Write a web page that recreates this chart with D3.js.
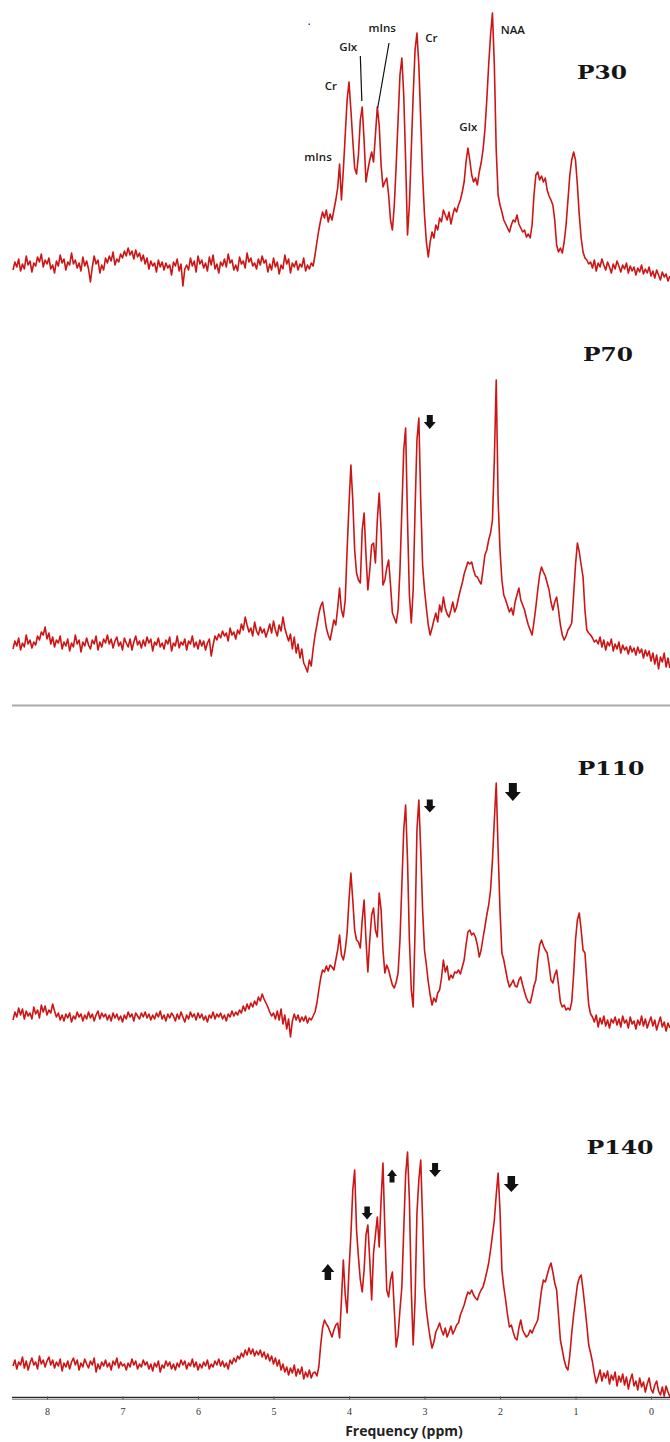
<!DOCTYPE html>
<html>
<head>
<meta charset="utf-8">
<script src="https://cdn.jsdelivr.net/npm/d3@7"></script>
<style>
  html, body { margin: 0; padding: 0; background: #fff; }
  svg { display: block; }
</style>
</head>
<body>
<svg id="chart" width="670" height="1442"></svg>
<script>
// Spectra are sampled on a uniform chemical-shift grid: 8.45 ppm downward in 0.025 ppm steps.
const PPM_START = 8.45;
const PPM_STEP = 0.025;

const axisTicks = [8, 7, 6, 5, 4, 3, 2, 1, 0];
const axisTitle = "Frequency (ppm)";
const groupNames = ["P30", "P70", "P110", "P140"];

// Signal intensity (arbitrary units) per grid point.
const p30 = [
  30,38,33,41,29,36,31,44,35,39, 28,37,34,43,38,46,33,40,36,42,
  31,35,27,39,34,45,37,41,30,38, 35,47,36,40,32,37,29,43,34,39,
  31,18,33,44,36,40,27,35,30,42, 37,44,39,48,35,41,38,46,42,49,
  44,52,45,49,41,50,43,47,39,45, 36,42,31,39,34,37,28,40,33,38,
  30,37,32,35,25,38,34,41,29,36, 14,31,35,30,42,34,39,28,44,36,
  40,32,37,29,43,35,45,31,36,27, 38,34,41,33,46,37,40,30,35,29,
  43,36,39,32,47,38,42,34,37,31, 41,35,44,37,40,28,36,30,42,33,
  38,26,35,31,45,36,41,27,37,33, 39,30,36,33,42,29,35,31,37,34,
  45,58,70,80,88,82,90,78,86,80, 90,100,112,136,100,130,165,200,218,190,
  160,132,126,145,180,193,160,118,130,140, 148,138,165,193,175,135,113,118,122,105,
  80,70,95,135,180,225,242,205,140,65, 95,150,205,250,267,235,180,125,85,58,
  43,58,68,62,75,70,82,78,90,85, 80,88,76,85,92,88,95,100,108,118,
  138,152,140,125,118,122,115,128,137,150, 170,200,235,265,287,235,150,105,95,88,
  80,76,72,68,75,80,78,85,76,72, 68,70,63,66,62,75,105,125,128,120,
  124,118,122,110,104,100,95,80,55,48, 52,47,58,75,100,125,140,148,140,115,
  85,62,48,42,40,36,38,32,40,29, 37,33,41,35,30,38,33,27,36,31,
  39,34,28,35,31,37,27,34,29,33, 25,32,28,35,26,31,27,33,24,29,
  22,30,25,20,28,23,26,19,24
];

const p70 = [
  31,39,34,42,30,37,33,45,36,40, 32,38,35,44,40,48,45,53,41,47,
  36,43,33,40,37,44,31,38,34,41, 29,37,33,45,36,40,28,38,34,42,
  35,31,40,36,44,30,38,33,41,37, 45,36,41,32,39,43,34,38,30,42,
  37,33,41,30,38,44,35,39,32,40, 34,43,37,41,29,38,35,42,33,37,
  31,40,36,43,29,37,34,44,32,38, 35,41,30,39,36,44,33,38,31,40,
  34,39,30,37,41,24,35,44,40,46, 42,49,44,47,39,52,45,48,41,50,
  46,56,50,63,55,48,52,44,58,49, 45,53,47,51,43,49,56,47,59,50,
  44,55,49,63,52,45,39,46,31,43, 27,36,22,31,17,13,8,20,14,31,
  45,55,66,74,78,65,52,45,40,50, 60,55,72,92,70,63,80,130,175,215,
  180,130,107,100,97,150,167,125,90,110, 135,137,117,160,187,150,95,100,112,120,
  95,67,62,57,70,110,170,230,252,160, 85,57,90,170,240,262,180,115,90,72,
  55,45,52,60,67,58,75,68,83,72, 66,63,70,78,68,73,82,90,97,106,
  112,118,116,118,110,104,103,99,96,110, 125,130,140,147,160,220,300,180,130,100,
  85,80,74,68,72,65,78,85,92,80, 75,70,62,55,50,45,58,73,90,105,
  113,108,104,97,90,78,70,78,83,70, 55,45,40,44,50,53,57,85,115,137,
  128,115,103,70,50,47,45,42,38,40, 36,43,33,40,30,38,34,41,29,36,
  31,38,27,35,30,33,26,34,28,32, 25,33,27,31,22,30,24,29,19,27,
  16,25,11,23,18,27,13,22,12
];

const p110 = [
  30,38,33,42,35,41,31,39,34,37, 31,43,36,40,32,45,38,44,35,40,
  37,46,39,33,37,30,35,29,36,32, 37,28,34,31,38,33,36,29,35,31,
  38,32,36,29,35,39,31,37,33,36, 30,35,29,37,32,36,30,34,28,35,
  31,38,33,36,29,37,34,31,37,33, 38,32,36,30,35,31,37,33,39,31,
  35,29,36,32,37,34,29,36,31,38, 33,28,35,31,38,33,36,30,37,32,
  36,30,34,28,35,32,38,31,36,33, 37,31,35,29,36,33,39,34,38,35,
  40,37,44,39,46,41,47,43,49,45, 53,49,56,51,47,43,38,34,37,31,
  39,30,41,26,35,21,31,13,29,36, 30,35,28,33,29,34,27,32,30,34,
  38,47,60,72,80,78,84,79,85,83, 80,90,100,115,95,90,100,117,150,177,
  150,120,110,108,102,130,150,110,78,110, 135,142,120,113,157,140,100,77,85,80,
  72,65,62,68,77,110,165,220,245,190, 110,60,43,120,220,250,200,140,100,85,
  68,55,45,52,48,57,60,72,90,78, 84,70,75,72,78,77,80,76,83,90,
  105,118,120,115,117,113,105,93,100,112, 123,135,145,160,190,230,267,200,140,97,
  90,80,70,63,66,70,64,63,70,73, 65,58,52,48,47,55,64,70,90,105,
  110,104,100,97,85,70,67,75,80,65, 48,43,45,40,42,40,48,75,110,130,
  137,120,100,97,70,45,36,33,28,35, 23,32,26,34,24,30,22,31,27,33,
  25,31,23,34,27,30,22,33,26,29, 21,30,25,34,24,31,22,28,33,24,
  30,20,27,33,23,28,19,27,22
];

const p140 = [
  34,40,31,38,35,43,32,39,30,37, 42,35,38,31,44,36,40,33,39,43,
  35,40,32,38,34,41,29,37,33,39, 31,38,42,35,40,30,37,33,41,36,
  32,39,35,42,28,36,31,38,34,40, 33,37,30,39,35,42,32,38,34,36,
  30,37,33,41,35,39,31,36,33,40, 35,38,31,36,29,37,33,39,28,35,
  32,39,34,38,31,36,30,37,33,40, 35,39,31,37,34,41,33,38,30,36,
  32,38,34,40,31,36,33,39,35,41, 34,39,33,37,31,40,36,42,38,44,
  41,47,43,50,45,52,46,51,44,49, 45,50,43,48,41,46,39,44,36,42,
  34,40,30,36,28,33,25,32,27,35, 24,31,26,33,21,28,23,30,22,27,
  28,24,33,55,72,80,76,73,68,63, 70,75,77,62,100,140,105,87,130,165,
  210,230,170,143,120,108,130,165,175,140, 100,147,165,183,153,200,237,170,110,103,
  120,128,90,53,65,90,113,170,225,248, 200,110,55,100,187,220,240,180,113,90,
  75,62,52,58,68,72,77,70,65,72, 63,68,74,66,70,75,77,85,90,95,
  102,108,106,110,105,102,100,106,110,113, 120,128,137,150,165,180,205,227,190,130,
  113,100,85,73,75,68,62,60,72,80, 70,66,63,65,70,67,72,76,80,95,
  110,120,118,125,132,137,128,117,110,85, 60,50,40,33,30,45,67,85,100,115,
  122,125,110,93,75,55,47,38,26,17, 23,30,19,27,22,29,16,25,20,28,
  14,24,18,26,15,23,11,20,26,14, 19,10,22,13,18,8,16,22,11,7,
  15,19,9,5,13,4,14,8,3
];

// Metabolite peak labels on the top spectrum: [text, ppm, intensity]
const peakLabels = [
  ["mIns", 4.41, 144],
  ["Cr",   4.24, 215],
  ["Glx",  4.01, 254],
  ["mIns", 3.56, 273],
  ["Cr",   2.91, 263],
  ["Glx",  2.42, 174],
  ["NAA",  1.83, 271]
];
// Leader lines: [ppm1, int1, ppm2, int2]
const leaderLines = [
  [3.85, 244, 3.83, 199],
  [3.47, 257, 3.62, 192]
];

// Change markers per spectrum: [group, ppm, intensity, direction]
const changeMarkers = [
  ["P70",  2.93, 258, "down"],
  ["P110", 2.93, 244, "down"],
  ["P110", 1.83, 258, "down"],
  ["P140", 4.28, 128, "up"],
  ["P140", 3.76, 187, "down"],
  ["P140", 3.43, 224, "up"],
  ["P140", 2.86, 230, "down"],
  ["P140", 1.85, 216, "down"]
];

// ---------------- layout ----------------
const svg = d3.select("#chart");
const x = d3.scaleLinear().domain([8, 0]).range([47, 651]);
const series = { P30: p30, P70: p70, P110: p110, P140: p140 };

const panelLayout = {
  P30:  { zero: 300,  label: [602, 72],   labelW: 50 },
  P70:  { zero: 680,  label: [608, 354],  labelW: 50 },
  P110: { zero: 1050, label: [611, 768],  labelW: 67 },
  P140: { zero: 1400, label: [620, 1147], labelW: 67 }
};
const markerSize = {
  P70: [[12, 14]],
  P110: [[12, 13], [16, 18]],
  P140: [[13, 16], [11, 13], [10, 13], [12, 14], [15, 16]]
};

const yScales = {};
groupNames.forEach(name => {
  const L = panelLayout[name];
  yScales[name] = d3.scaleLinear().domain([0, 300]).range([L.zero, L.zero - 300]);
});

// separator between the upper and lower pair of spectra
svg.append("line")
  .attr("x1", 12).attr("x2", 670).attr("y1", 705.5).attr("y2", 705.5)
  .attr("stroke", "#a9a9a9").attr("stroke-width", 2);

// spectra
groupNames.forEach(name => {
  const vals = series[name];
  const y = yScales[name];
  const line = d3.line()
    .x((d, i) => x(PPM_START - PPM_STEP * i))
    .y(d => y(d));
  svg.append("path")
    .datum(vals)
    .attr("d", line)
    .attr("fill", "none")
    .attr("stroke", "#cc1616")
    .attr("stroke-width", 1.6)
    .attr("stroke-linejoin", "round");

  const L = panelLayout[name];
  svg.append("text")
    .attr("x", L.label[0]).attr("y", L.label[1])
    .attr("text-anchor", "middle")
    .attr("dominant-baseline", "central")
    .attr("font-family", "'DejaVu Serif', serif")
    .attr("font-weight", "bold")
    .attr("font-size", 19)
    .attr("textLength", L.labelW)
    .attr("lengthAdjust", "spacingAndGlyphs")
    .attr("fill", "#151515")
    .text(name);
});

// metabolite labels on P30
const y30 = yScales.P30;
svg.append("g").selectAll("text")
  .data(peakLabels)
  .join("text")
  .attr("x", d => x(d[1]))
  .attr("y", d => y30(d[2]))
  .attr("text-anchor", "middle")
  .attr("dominant-baseline", "central")
  .attr("font-family", "'Open Sans', sans-serif")
  .attr("font-weight", 600)
  .attr("font-size", 11.5)
  .attr("fill", "#1a1a1a")
  .text(d => d[0]);

svg.append("g").selectAll("line")
  .data(leaderLines)
  .join("line")
  .attr("x1", d => x(d[0])).attr("y1", d => y30(d[1]))
  .attr("x2", d => x(d[2])).attr("y2", d => y30(d[3]))
  .attr("stroke", "#111").attr("stroke-width", 1.2);

// small stray mark near the top
svg.append("rect").attr("x", 308.5).attr("y", 23.5).attr("width", 1.5).attr("height", 1.5).attr("fill", "#3a3ae0");

// arrow markers
function arrowPath(w, h, dir) {
  const s = w * 0.5, head = h * 0.5;
  const top = -h / 2, mid = -h / 2 + (h - head);
  const pts = [[-s / 2, top], [s / 2, top], [s / 2, mid], [w / 2, mid], [0, h / 2], [-w / 2, mid], [-s / 2, mid]];
  const p = pts.map(([a, b]) => [a, dir === "up" ? -b : b]);
  return "M" + p.map(q => q.join(",")).join("L") + "Z";
}
const markerCount = {};
changeMarkers.forEach(m => {
  const [name, ppm, val, dir] = m;
  const k = markerCount[name] || 0;
  markerCount[name] = k + 1;
  const [w, h] = markerSize[name][k];
  svg.append("path")
    .attr("transform", `translate(${x(ppm)},${yScales[name](val)})`)
    .attr("d", arrowPath(w, h, dir))
    .attr("fill", "#111");
});

// frequency axis
const axisY = 1397.5;
svg.append("line").attr("x1", 12).attr("x2", 670).attr("y1", axisY).attr("y2", axisY)
  .attr("stroke", "#2a2a2a").attr("stroke-width", 1.6);
svg.append("line").attr("x1", 12).attr("x2", 670).attr("y1", axisY + 2).attr("y2", axisY + 2)
  .attr("stroke", "#9a9a9a").attr("stroke-width", 1);

const axis = d3.axisBottom(x).tickValues(axisTicks).tickSizeInner(3).tickSizeOuter(0).tickPadding(8)
  .tickFormat(d3.format("d"));
const gAxis = svg.append("g").attr("transform", `translate(0,${axisY - 1})`).call(axis);
gAxis.select(".domain").remove();
gAxis.selectAll(".tick line").attr("stroke", "#555");
gAxis.selectAll(".tick text")
  .attr("font-family", "'Liberation Serif', serif")
  .attr("font-size", 10)
  .attr("fill", "#333");

svg.append("text")
  .attr("x", 404).attr("y", 1430)
  .attr("text-anchor", "middle")
  .attr("dominant-baseline", "central")
  .attr("font-family", "'Open Sans', sans-serif")
  .attr("font-weight", 700)
  .attr("font-size", 14)
  .attr("fill", "#222")
  .text(axisTitle);
</script>
</body>
</html>
